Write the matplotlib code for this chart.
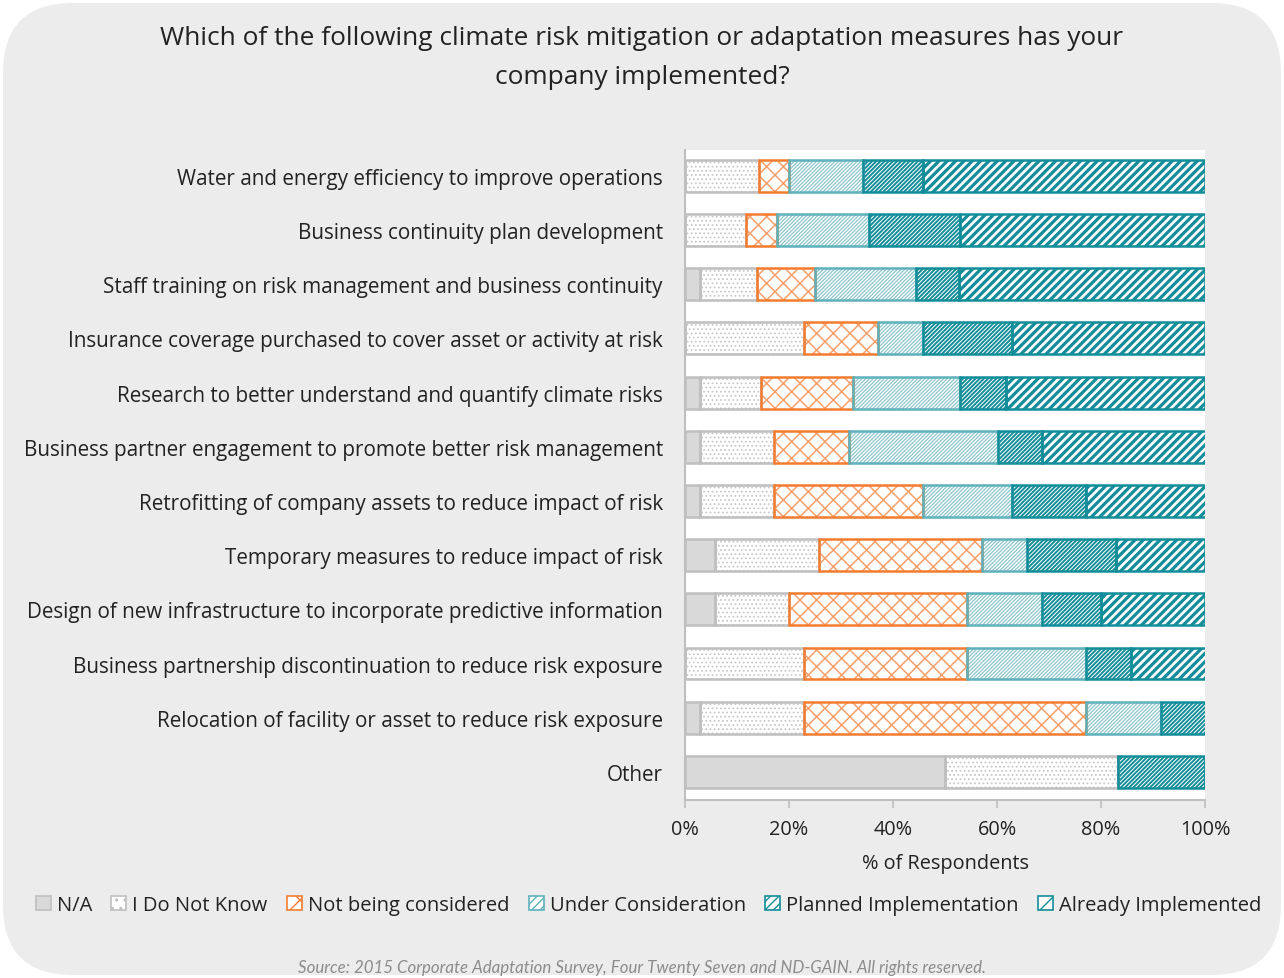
import matplotlib.pyplot as plt
from matplotlib.patches import Patch, FancyBboxPatch

plt.rcParams['font.family'] = ['Open Sans', 'DejaVu Sans']

# question categories, top to bottom
measures = [
    'Water and energy efficiency to improve operations',
    'Business continuity plan development',
    'Staff training on risk management and business continuity',
    'Insurance coverage purchased to cover asset or activity at risk',
    'Research to better understand and quantify climate risks',
    'Business partner engagement to promote better risk management',
    'Retrofitting of company assets to reduce impact of risk',
    'Temporary measures to reduce impact of risk',
    'Design of new infrastructure to incorporate predictive information',
    'Business partnership discontinuation to reduce risk exposure',
    'Relocation of facility or asset to reduce risk exposure',
    'Other',
]

# % of respondents per answer
na = [0, 0, 2.8, 0, 2.9, 2.9, 2.9, 5.7, 5.7, 0, 2.9, 50.0]
dont_know = [14.3, 11.8, 11.1, 22.9, 11.8, 14.3, 14.3, 20.0, 14.3, 22.9, 20.0, 33.3]
not_considered = [5.7, 5.9, 11.1, 14.3, 17.6, 14.3, 28.6, 31.4, 34.3, 31.4, 54.3, 0]
under_consideration = [14.3, 17.6, 19.4, 8.6, 20.6, 28.6, 17.1, 8.6, 14.3, 22.9, 14.3, 0]
planned = [11.4, 17.6, 8.3, 17.1, 8.8, 8.6, 14.3, 17.1, 11.4, 8.6, 8.6, 16.7]
implemented = [54.3, 47.1, 47.2, 37.1, 38.2, 31.4, 22.9, 17.1, 20.0, 14.3, 0, 0]

series_names = ['N/A', 'I Do Not Know', 'Not being considered', 'Under Consideration',
                'Planned Implementation', 'Already Implemented']
series = [na, dont_know, not_considered, under_consideration, planned, implemented]

# face, edge, hatch, hatch colour, hatch width, legend hatch
styles = [
    ('#d9d9d9', '#bfbfbf', '', '#d9d9d9', 1.0, ''),
    ('white', '#bfbfbf', '....', '#c8c8c8', 0.8, '..'),
    ('white', '#f47c30', 'xx', '#f7a06b', 1.1, 'x'),
    ('white', '#5fb1bb', '/////////', '#8cc6cd', 0.9, '////'),
    ('white', '#138d99', '////////', '#138d99', 1.4, '////'),
    ('white', '#138d99', '////', '#138d99', 2.3, '//'),
]

fig = plt.figure(figsize=(12.84, 9.79), dpi=100)
fig.patch.set_facecolor('white')
bg = FancyBboxPatch((3, 3), 1278, 972, boxstyle='round,pad=0,rounding_size=70',
                    transform=None, facecolor='#ececec', edgecolor='none', zorder=-10)
fig.add_artist(bg)

ax = fig.add_axes([0.5335, 0.1818, 0.405, 0.664])
ax.set_facecolor('white')

y = list(range(len(measures)))
left = [0] * len(measures)
handles = []
for name, vals, (fc, ec, hatch, hc, hw, lh) in zip(series_names, series, styles):
    with plt.rc_context({'hatch.linewidth': hw}):
        ax.barh(y, vals, left=left, height=0.59, color=fc, edgecolor=hc,
                hatch=hatch, linewidth=0, zorder=2)
        handles.append(Patch(facecolor=fc, edgecolor=ec, hatch=lh, linewidth=1.2,
                             label=name))
    ax.barh(y, vals, left=left, height=0.59, color='none', edgecolor=ec,
            linewidth=1.8, zorder=3)
    left = [l + v for l, v in zip(left, vals)]

ax.set_xlim(0, 100)
ax.set_ylim(11.52, -0.48)
ax.set_yticks(y)
ax.set_yticklabels(measures, fontsize=14.9, color='#222222')
ax.tick_params(axis='y', length=0, pad=16)
ax.set_xticks([0, 20, 40, 60, 80, 100])
ax.set_xticklabels(['0%', '20%', '40%', '60%', '80%', '100%'], fontsize=14.3, color='#222222')
ax.tick_params(axis='x', length=6, color='#bfbfbf', width=1.2, pad=8)
ax.set_xlabel('% of Respondents', fontsize=14.3, color='#222222', labelpad=10)
for s in ['top', 'right']:
    ax.spines[s].set_visible(False)
for s in ['left', 'bottom']:
    ax.spines[s].set_color('#bfbfbf')
    ax.spines[s].set_linewidth(1.5)

fig.text(0.5, 1 - 58 / 979,
         'Which of the following climate risk mitigation or adaptation measures has your\ncompany implemented?',
         ha='center', va='center', fontsize=18.9, color='#222222', linespacing=1.78)

fig.legend(handles=handles, loc='center', bbox_to_anchor=(0.505, 1 - 906 / 979), ncol=6,
           frameon=False, fontsize=14.5, handlelength=0.75, handleheight=0.75,
           handletextpad=0.3, columnspacing=0.95, labelcolor='#222222')

fig.text(0.5, 1 - 968 / 979,
         'Source: 2015 Corporate Adaptation Survey, Four Twenty Seven and ND-GAIN. All rights reserved.',
         ha='center', va='center', fontsize=12.2, style='italic', color='#8c8c8c',
         family=['Lato', 'DejaVu Sans'])

fig.savefig('out.png', dpi=100)
